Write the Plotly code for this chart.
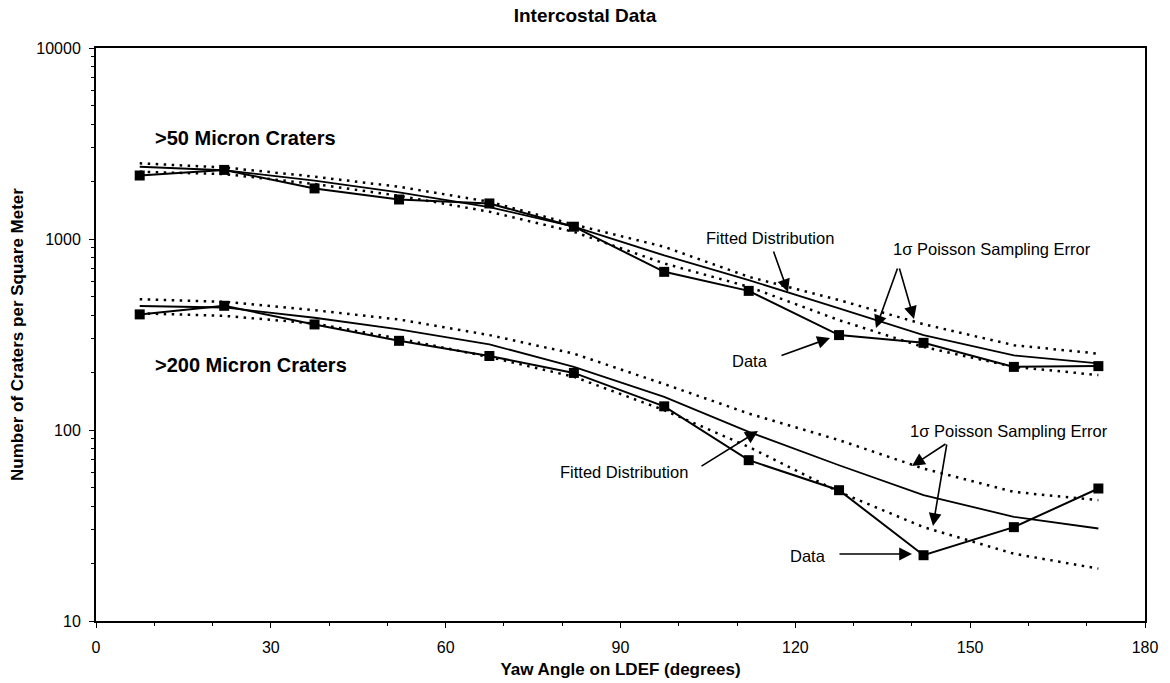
import plotly.graph_objects as go

# ---------------- data ----------------
yaw = [7.5, 22, 37.5, 52, 67.5, 82, 97.5, 112, 127.5, 142, 157.5, 172]

d50_data = [2150, 2300, 1840, 1610, 1535, 1160, 673, 535, 314, 286, 214, 216]
d50_fit = [2390, 2290, 2020, 1755, 1470, 1160, 820, 609, 433, 314, 246, 223]
d50_up = [2490, 2370, 2120, 1877, 1567, 1190, 910, 634, 479, 358, 278, 251]
d50_lo = [2249, 2188, 1940, 1684, 1390, 1090, 745, 562, 376, 272, 214, 194]

d200_data = [403, 447, 357, 293, 244, 199, 133, 69.5, 48.4, 22.1, 31, 49.4]
d200_fit = [446, 438, 387, 336, 281, 214, 149, 97.7, 65.4, 45.6, 35.1, 30.5]
d200_up = [484, 469, 424, 379, 314, 251, 174, 122, 88.5, 62.8, 47.4, 42.9]
d200_lo = [408, 396, 361, 301, 241, 190, 127, 81.6, 47.4, 31, 22.5, 18.8]

x_ticks = [0, 30, 60, 90, 120, 150, 180]
y_ticks = [10, 100, 1000, 10000]

# ---------------- layout geometry ----------------
W, H = 1170, 683
L, R, T, B = 96, 25, 48, 62
X0, X1 = 0, 180
Y0, Y1 = 1, 4  # log10 range


def px2x(px):
    return X0 + (px - L) / (W - L - R) * (X1 - X0)


def px2y(py):
    return Y1 - (py - T) / (H - T - B) * (Y1 - Y0)


fig = go.Figure()

line_main = dict(color="black", width=2)
dot_line = dict(color="black", width=2.5, dash="2.5px,5.5px")

for data, fit, up, lo in [(d50_data, d50_fit, d50_up, d50_lo),
                          (d200_data, d200_fit, d200_up, d200_lo)]:
    fig.add_trace(go.Scatter(x=yaw, y=up, mode="lines", line=dot_line, showlegend=False))
    fig.add_trace(go.Scatter(x=yaw, y=lo, mode="lines", line=dot_line, showlegend=False))
    fig.add_trace(go.Scatter(x=yaw, y=fit, mode="lines", line=dict(color="black", width=1.8), showlegend=False))
    fig.add_trace(go.Scatter(x=yaw, y=data, mode="lines+markers", line=line_main,
                             marker=dict(symbol="square", size=10, color="black"),
                             showlegend=False))

font_family = "Liberation Sans, Arial, sans-serif"

annotations = []

# text labels (pixel positions converted to data coordinates)
texts = [
    ("Fitted Distribution", 770, 238, "center", False, 16.5),
    ("1σ Poisson Sampling Error", 992, 249, "center", False, 16.5),
    ("Data", 750, 361, "center", False, 16.5),
    ("Fitted Distribution", 624, 472, "center", False, 16.5),
    ("1σ Poisson Sampling Error", 1009, 431, "center", False, 16.5),
    ("Data", 808, 556, "center", False, 16.5),
    (">50 Micron Craters", 153, 138, "left", True, 20),
    (">200 Micron Craters", 153, 365, "left", True, 20),
]
for txt, px, py, anchor, bold, size in texts:
    annotations.append(dict(
        x=px2x(px), y=px2y(py), xref="x", yref="y",
        text=f"<b>{txt}</b>" if bold else txt, showarrow=False,
        xanchor=anchor, yanchor="middle",
        font=dict(family=font_family, size=size, color="black")))

# arrows: tail (px,py) -> head (px,py)
arrows = [
    ((773, 250), (788, 292)),
    ((898, 267), (876, 328)),
    ((899, 267), (914, 319)),
    ((780, 356), (830, 338)),
    ((700, 467), (758, 431)),
    ((947, 443), (912, 466)),
    ((947, 443), (933, 526)),
    ((838, 554), (912, 554)),
]
for (tx, ty), (hx, hy) in arrows:
    annotations.append(dict(
        x=px2x(hx), y=px2y(hy), xref="x", yref="y",
        ax=tx - hx, ay=ty - hy, axref="pixel", ayref="pixel",
        text="", showarrow=True, arrowhead=2, arrowsize=1.6,
        arrowwidth=1.6, arrowcolor="black"))

fig.update_layout(
    width=W, height=H,
    margin=dict(l=L, r=R, t=T, b=B, autoexpand=False),
    paper_bgcolor="white", plot_bgcolor="white",
    font=dict(family=font_family, size=16, color="black"),
    title=dict(text="<b>Intercostal Data</b>", x=0.5, xanchor="center",
               y=1 - 15 / H, yanchor="middle",
               font=dict(family=font_family, size=19, color="black")),
    annotations=annotations,
    showlegend=False,
)

fig.update_xaxes(
    range=[X0, X1], tickvals=x_ticks, ticktext=[str(v) for v in x_ticks],
    showgrid=False, zeroline=False, automargin=False,
    showline=True, linecolor="black", linewidth=2, mirror=True,
    ticks="outside", ticklen=5, tickcolor="black", tickwidth=1,
    ticklabelstandoff=6,
    minor=dict(tickvals=[v for v in range(10, 180, 10) if v % 30 != 0],
               ticks="outside", ticklen=3, tickcolor="black", tickwidth=1),
    tickfont=dict(size=16),
    title=dict(text="<b>Yaw Angle on LDEF (degrees)</b>", font=dict(size=17), standoff=8),
)

minor_y = [m * 10 ** e for e in range(1, 4) for m in range(2, 10)]
fig.update_yaxes(
    type="log", range=[Y0, Y1], tickvals=y_ticks, ticktext=[str(v) for v in y_ticks],
    showgrid=False, zeroline=False, automargin=False,
    showline=True, linecolor="black", linewidth=2, mirror=True,
    ticks="outside", ticklen=5, tickcolor="black", tickwidth=1,
    ticklabelstandoff=5,
    minor=dict(tickvals=minor_y, ticks="outside", ticklen=3, tickcolor="black", tickwidth=1),
    tickfont=dict(size=16),
    title=dict(text="<b>Number of Craters per Square Meter</b>", font=dict(size=17), standoff=8),
)

fig.write_html("out.html")
